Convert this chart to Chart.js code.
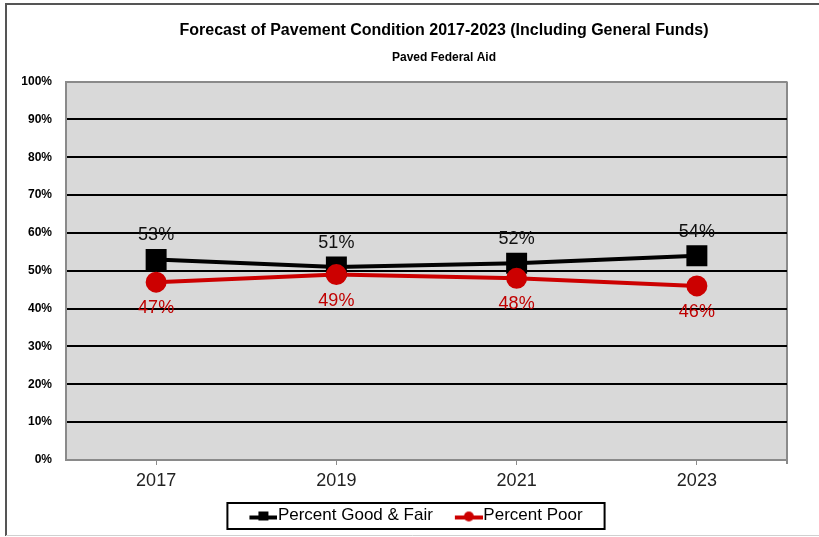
<!DOCTYPE html>
<html>
<head>
<meta charset="utf-8">
<title>Forecast of Pavement Condition 2017-2023</title>
<script src="https://cdn.jsdelivr.net/npm/chart.js@4/dist/chart.umd.min.js"></script>
<style>
  html, body { margin: 0; padding: 0; background: #fff; }
</style>
</head>
<body>
<canvas id="pavement" width="819" height="537"></canvas>
<script>
// Paved Federal Aid network, percent of lane miles by condition
const years = ["2017", "2019", "2021", "2023"];
const goodFair = [53, 51, 52, 54];
const poor = [47, 49, 48, 46];
const yMin = 0;
const yMax = 100;
const yStep = 10;

const FONT = "'Liberation Sans', Arial, sans-serif";
const BLACK = "#000000";
const RED = "#cc0000";
const PLOT_BG = "#d9d9d9";
const FRAME_GREY = "#8a8a8a";

// line + marker icon for the legend; the left part of the image is left
// blank so the icon butts up against its label and items get more spacing
function legendSymbol(color, shape) {
  const c = document.createElement("canvas");
  c.width = 48;
  c.height = 14;
  const g = c.getContext("2d");
  g.strokeStyle = color;
  g.fillStyle = color;
  g.lineWidth = 4;
  g.beginPath();
  g.moveTo(20, 9);
  g.lineTo(48, 9);
  g.stroke();
  if (shape === "rect") {
    g.fillRect(29, 3, 10, 9);
  } else {
    g.beginPath();
    g.arc(34, 8, 5, 0, Math.PI * 2);
    g.fill();
  }
  return c;
}
const symbols = [legendSymbol(BLACK, "rect"), legendSymbol(RED, "circle")];

// page frame + grey plot background
const framePlugin = {
  id: "frame",
  beforeDraw(chart) {
    const { ctx, chartArea: a, width, height } = chart;
    ctx.save();
    ctx.fillStyle = "#fff";
    ctx.fillRect(0, 0, width, height);
    ctx.fillStyle = PLOT_BG;
    ctx.fillRect(a.left, a.top, a.right - a.left, a.bottom - a.top);
    ctx.strokeStyle = FRAME_GREY;
    ctx.lineWidth = 2;
    ctx.beginPath();
    ctx.moveTo(a.right, a.top);
    ctx.lineTo(a.right, a.bottom + 4);
    ctx.stroke();
    // outer border
    ctx.strokeStyle = "#555";
    ctx.lineWidth = 2;
    ctx.beginPath();
    ctx.moveTo(width, 4);
    ctx.lineTo(6, 4);
    ctx.lineTo(6, height - 1);
    ctx.stroke();
    ctx.strokeStyle = "#d0d0d0";
    ctx.lineWidth = 1;
    ctx.beginPath();
    ctx.moveTo(6, height - 1.5);
    ctx.lineTo(width, height - 1.5);
    ctx.stroke();
    ctx.restore();
  },
  afterLayout(chart) {
    // titles sit a little right of the canvas centre
    const TitleBox = chart.titleBlock && chart.titleBlock.constructor;
    chart.boxes.forEach(b => {
      if (TitleBox && b.constructor === TitleBox) {
        b.left += 34;
        b.right += 34;
      }
    });
  },
  afterDraw(chart) {
    // boxed legend
    const hb = chart.legend && chart.legend.legendHitBoxes;
    if (!hb || !hb.length) return;
    const left = Math.min(...hb.map(h => h.left)) - 10;
    const right = Math.max(...hb.map(h => h.left + h.width)) + 22;
    const top = hb[0].top - 4;
    const bottom = hb[0].top + hb[0].height + 5;
    const ctx = chart.ctx;
    ctx.save();
    ctx.strokeStyle = "#000";
    ctx.lineWidth = 2;
    ctx.strokeRect(left, top, right - left, bottom - top);
    ctx.restore();
  }
};

// value labels above / below each marker
const valueLabels = {
  id: "valueLabels",
  afterDatasetsDraw(chart, args, opts) {
    const ctx = chart.ctx;
    ctx.save();
    ctx.font = "18px " + FONT;
    ctx.textAlign = "center";
    ctx.textBaseline = "middle";
    chart.data.datasets.forEach((ds, i) => {
      const meta = chart.getDatasetMeta(i);
      ctx.fillStyle = opts.colors[i];
      meta.data.forEach((pt, j) => {
        ctx.fillText(ds.data[j] + "%", pt.x, pt.y + opts.offsets[i]);
      });
    });
    ctx.restore();
  }
};

new Chart(document.getElementById("pavement"), {
  type: "line",
  data: {
    labels: years,
    datasets: [
      {
        label: "Percent Good & Fair",
        data: goodFair,
        borderColor: BLACK,
        backgroundColor: BLACK,
        borderWidth: 4,
        pointStyle: "rect",
        pointRadius: 12,
        pointHoverRadius: 12,
        tension: 0,
        order: 1
      },
      {
        label: "Percent Poor",
        data: poor,
        borderColor: RED,
        backgroundColor: RED,
        borderWidth: 4,
        pointStyle: "circle",
        pointRadius: 8.5,
        pointHoverRadius: 8.5,
        tension: 0,
        order: 0
      }
    ]
  },
  options: {
    responsive: false,
    animation: false,
    events: [],
    layout: { padding: { left: 1, right: 0, top: 0, bottom: 3 } },
    scales: {
      x: {
        offset: true,
        grid: { display: true, drawOnChartArea: false, drawTicks: true, tickLength: 5, color: FRAME_GREY },
        border: { display: true, color: FRAME_GREY, width: 2 },
        ticks: { color: "#222", font: { family: FONT, size: 18 }, padding: 5 },
        afterFit(s) { s.height = 37; }
      },
      y: {
        min: yMin,
        max: yMax,
        grid: {
          drawTicks: false,
          color: c => (c.tick.value === yMin || c.tick.value === yMax) ? FRAME_GREY : BLACK,
          lineWidth: 2
        },
        border: { display: true, color: FRAME_GREY, width: 2 },
        ticks: {
          stepSize: yStep,
          padding: 14,
          color: "#000",
          font: { family: FONT, size: 12, weight: "bold" },
          callback: v => v + "%"
        },
        afterFit(s) { s.width = 65; }
      },
      yr: {
        position: "right",
        min: yMin,
        max: yMax,
        grid: { display: false },
        border: { display: false },
        ticks: { display: false },
        afterFit(s) { s.width = 32; }
      }
    },
    plugins: {
      title: {
        display: true,
        text: "Forecast of Pavement Condition 2017-2023 (Including General Funds)",
        color: "#000",
        font: { family: FONT, size: 16, weight: "bold" },
        padding: { top: 21, bottom: 0 }
      },
      subtitle: {
        display: true,
        text: "Paved Federal Aid",
        color: "#000",
        font: { family: FONT, size: 12, weight: "bold" },
        padding: { top: 10, bottom: 17 }
      },
      legend: {
        position: "bottom",
        labels: {
          color: "#000",
          font: { family: FONT, size: 17 },
          padding: 10,
          usePointStyle: true,
          pointStyleWidth: 32,
          sort: (a, b) => a.datasetIndex - b.datasetIndex,
          generateLabels(chart) {
            const items = Chart.defaults.plugins.legend.labels.generateLabels(chart);
            items.forEach(it => { it.pointStyle = symbols[it.datasetIndex]; });
            return items;
          }
        }
      },
      tooltip: { enabled: false },
      valueLabels: {
        colors: ["#111", "#c00000"],
        offsets: [-24, 26]
      }
    }
  },
  plugins: [framePlugin, valueLabels]
});
</script>
</body>
</html>
